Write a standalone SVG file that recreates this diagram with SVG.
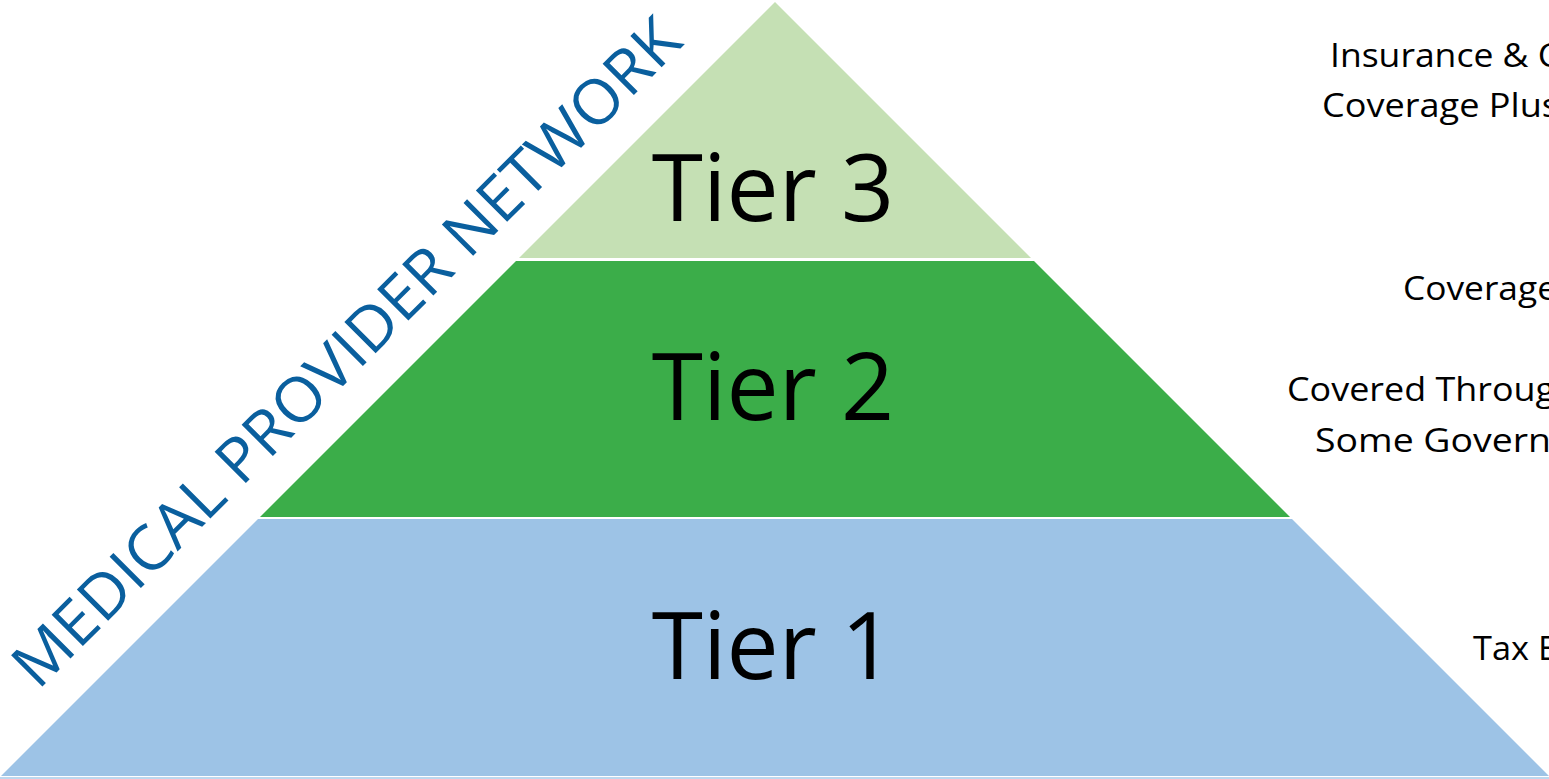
<svg xmlns="http://www.w3.org/2000/svg" width="1549" height="779" viewBox="0 0 1549 779">
<style>
.tier{font-family:"Open Sans","Liberation Sans",sans-serif;font-size:93px;fill:#000;text-anchor:middle}
.note{font-family:"Open Sans","Liberation Sans",sans-serif;font-size:33px;fill:#000}
.mpn{font-family:"Open Sans","Liberation Sans",sans-serif;font-size:62px;fill:#0A5F9E}
</style>
<rect width="1549" height="779" fill="#FFFFFF"/>
<g id="tier3">
<polygon points="775,2 1031,258 519,258" fill="#C5E0B4"/>
<text class="tier" x="773" y="221">Tier 3</text>
</g>
<g id="tier2">
<polygon points="516,261 1034,261 1290,517 260,517" fill="#3BAD49"/>
<text class="tier" x="773" y="420">Tier 2</text>
</g>
<g id="tier1">
<polygon points="258,519 1292,519 1549,776 1,776" fill="#9DC3E6"/>
<text class="tier" x="773" y="679">Tier 1</text>
</g>
<rect id="base-strip" x="0" y="777" width="1549" height="2" fill="#BDD7EE"/>
<g id="label-mpn">
<text class="mpn" transform="translate(38,691) rotate(-45)" textLength="915" lengthAdjust="spacingAndGlyphs">MEDICAL PROVIDER NETWORK</text>
</g>
<g id="notes">
<text class="note" x="1330" y="67" textLength="230" lengthAdjust="spacingAndGlyphs">Insurance &amp; C</text>
<text class="note" x="1322" y="117" textLength="237" lengthAdjust="spacingAndGlyphs">Coverage Plus</text>
<text class="note" x="1403" y="300" textLength="154" lengthAdjust="spacingAndGlyphs">Coverage</text>
<text class="note" x="1287" y="401" textLength="268" lengthAdjust="spacingAndGlyphs">Covered Throug</text>
<text class="note" x="1315" y="452" textLength="236" lengthAdjust="spacingAndGlyphs">Some Govern</text>
<text class="note" x="1473" y="660" textLength="84" lengthAdjust="spacingAndGlyphs">Tax E</text>
</g>
<g id="connectors"/>
</svg>
